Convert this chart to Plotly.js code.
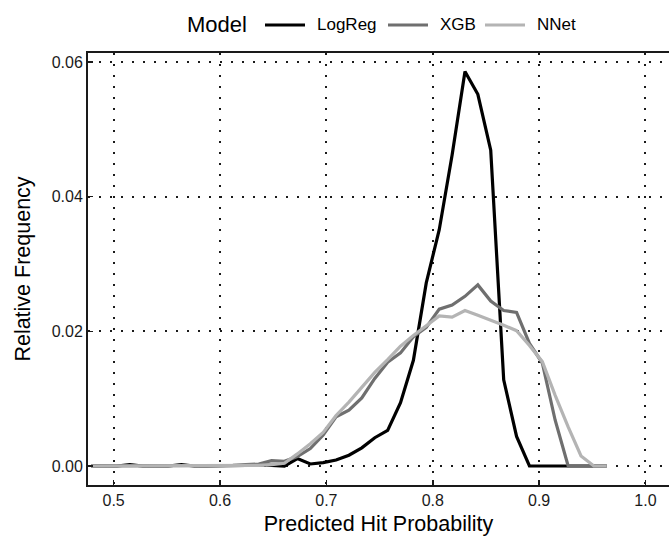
<!DOCTYPE html>
<html>
<head>
<meta charset="utf-8">
<script src="https://cdn.plot.ly/plotly-3.0.1.min.js"></script>
<style>html,body{margin:0;padding:0;overflow:hidden;background:#fff;}</style>
</head>
<body>
<div id="chart" style="width:669px;height:540px;"></div>
<script>
// Bin centres (predicted hit probability)
const binCenters = [
  0.4788, 0.4909, 0.5031, 0.5152, 0.5273, 0.5394, 0.5515, 0.5637, 0.5758, 0.5879,
  0.6000, 0.6121, 0.6243, 0.6364, 0.6485, 0.6606, 0.6727, 0.6849, 0.6970, 0.7091,
  0.7212, 0.7333, 0.7455, 0.7576, 0.7697, 0.7818, 0.7939, 0.8061, 0.8182, 0.8303,
  0.8424, 0.8545, 0.8667, 0.8788, 0.8909, 0.9030, 0.9151, 0.9273, 0.9394, 0.9515,
  0.9636
];
const logRegFreq = [
  0.0000, 0.0000, 0.0000, 0.0002, 0.0000, 0.0000, 0.0000, 0.0002, 0.0000, 0.0000,
  0.0000, 0.0000, 0.0001, 0.0002, 0.0001, 0.0000, 0.0011, 0.0003, 0.0005, 0.0009,
  0.0016, 0.0027, 0.0042, 0.0053, 0.0094, 0.0157, 0.0272, 0.0351, 0.0462, 0.0586,
  0.0552, 0.0469, 0.0128, 0.0044, 0.0000, 0.0000, 0.0000, 0.0000, 0.0000, 0.0000,
  0.0000
];
const xgbFreq = [
  0.0000, 0.0000, 0.0000, 0.0000, 0.0001, 0.0000, 0.0000, 0.0000, 0.0000, 0.0001,
  0.0000, 0.0001, 0.0002, 0.0003, 0.0008, 0.0007, 0.0014, 0.0026, 0.0046, 0.0073,
  0.0083, 0.0101, 0.0130, 0.0154, 0.0168, 0.0192, 0.0206, 0.0233, 0.0239, 0.0252,
  0.0269, 0.0245, 0.0231, 0.0228, 0.0182, 0.0153, 0.0068, 0.0000, 0.0000, 0.0000,
  0.0000
];
const nnetFreq = [
  0.0000, 0.0000, 0.0000, 0.0000, 0.0000, 0.0000, 0.0000, 0.0000, 0.0000, 0.0000,
  0.0000, 0.0000, 0.0000, 0.0001, 0.0002, 0.0004, 0.0018, 0.0033, 0.0050, 0.0075,
  0.0095, 0.0117, 0.0139, 0.0158, 0.0178, 0.0194, 0.0208, 0.0223, 0.0221, 0.0231,
  0.0224, 0.0217, 0.0209, 0.0201, 0.0179, 0.0155, 0.0105, 0.0058, 0.0015, 0.0000,
  0.0000
];
const seriesNames = ["LogReg", "XGB", "NNet"];
const legendTitle = "Model";
const xTickVals = [0.5, 0.6, 0.7, 0.8, 0.9, 1.0];
const xTickText = ["0.5", "0.6", "0.7", "0.8", "0.9", "1.0"];
const yTickVals = [0.00, 0.02, 0.04, 0.06];
const yTickText = ["0.00", "0.02", "0.04", "0.06"];

const FONT = "Liberation Sans, Arial, Helvetica, sans-serif";
const colors = ["#000000", "#6f6f6f", "#b4b4b4"];
const allY = [logRegFreq, xgbFreq, nnetFreq];

const traces = seriesNames.map((name, i) => ({
  type: "scatter",
  mode: "lines",
  name: name,
  x: binCenters,
  y: allY[i],
  line: {color: colors[i], width: 3.2},
  showlegend: false,
  hoverinfo: "x+y+name"
}));

// Legend layout (pixel positions converted to paper coordinates)
const W = 669, H = 540, M = {l: 88, r: 0, t: 53, b: 55};
const pw = W - M.l - M.r, ph = H - M.t - M.b;
const px2x = p => (p - M.l) / pw;
const py2y = p => 1 + (M.t - p) / ph;
const legY = 25;
const legLineStart = [265, 388, 485];
const legLineLen = 40;
const legTextGap = 10;

const shapes = seriesNames.map((name, i) => ({
  type: "line", xref: "paper", yref: "paper",
  x0: px2x(legLineStart[i]), x1: px2x(legLineStart[i] + legLineLen),
  y0: py2y(legY), y1: py2y(legY),
  line: {color: colors[i], width: 3.2}
}));
const annotations = seriesNames.map((name, i) => ({
  xref: "paper", yref: "paper",
  x: px2x(legLineStart[i] + legLineLen + legTextGap), y: py2y(legY),
  xanchor: "left", yanchor: "middle", showarrow: false,
  text: name, font: {family: FONT, size: 17, color: "#000"}
}));
annotations.push({
  xref: "paper", yref: "paper",
  x: px2x(185), y: py2y(legY),
  xanchor: "left", yanchor: "middle", showarrow: false,
  text: legendTitle, font: {family: FONT, size: 22, color: "#000"}
});

const gridCommon = {
  showgrid: true,
  gridcolor: "#1a1a1a",
  gridwidth: 2,
  griddash: "2px,9px",
  zeroline: false,
  showline: true,
  linecolor: "#1a1a1a",
  linewidth: 2,
  ticks: "inside",
  ticklen: 5,
  tickwidth: 1.5,
  tickcolor: "#1a1a1a",
  tickfont: {family: FONT, size: 16, color: "#1a1a1a"}
};

const layout = {
  width: W,
  height: H,
  margin: M,
  paper_bgcolor: "#ffffff",
  plot_bgcolor: "#ffffff",
  font: {family: FONT, color: "#000"},
  showlegend: false,
  shapes: shapes,
  annotations: annotations,
  xaxis: Object.assign({}, gridCommon, {
    range: [0.4759, 1.0221],
    tickvals: xTickVals,
    ticktext: xTickText,
    mirror: true,
    title: {text: "Predicted Hit Probability", font: {family: FONT, size: 21.5, color: "#000"}, standoff: 8}
  }),
  yaxis: Object.assign({}, gridCommon, {
    range: [-0.00282, 0.06134],
    tickvals: yTickVals,
    ticktext: yTickText,
    mirror: false,
    title: {text: "Relative Frequency", font: {family: FONT, size: 21.5, color: "#000"}, standoff: 15}
  })
};

Plotly.newPlot("chart", traces, layout, {displayModeBar: false, staticPlot: true});
</script>
</body>
</html>
